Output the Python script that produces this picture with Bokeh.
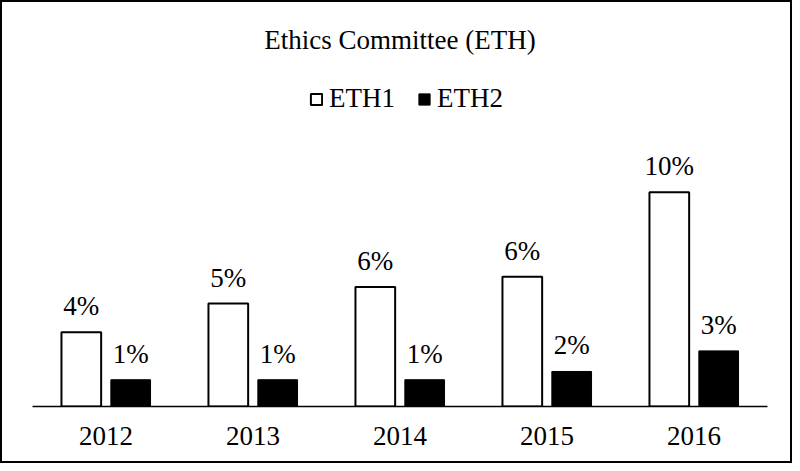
from bokeh.plotting import figure
from bokeh.models import ColumnDataSource, FactorRange, Range1d, Legend, LegendItem, Label
from bokeh.transform import dodge
from bokeh.embed import file_html
from bokeh.resources import INLINE

years = ["2012", "2013", "2014", "2015", "2016"]
eth1 = [3.6, 5.0, 5.8, 6.3, 10.4]
eth2 = [1.3, 1.3, 1.3, 1.7, 2.7]

FONT = "Liberation Serif"
W, H = 792, 463
FRAME_H = 406
PX_PER_UNIT = 20.6

src = ColumnDataSource(data=dict(
    year=years, eth1=eth1, eth2=eth2,
    l1=[f"{round(v)}%" for v in eth1],
    l2=[f"{round(v)}%" for v in eth2],
))

p = figure(x_range=FactorRange(*years, range_padding=0),
           y_range=Range1d(0, FRAME_H / PX_PER_UNIT),
           width=W, height=H, output_backend="svg", toolbar_location=None,
           y_axis_location=None, min_border_left=32, min_border_right=25,
           min_border_top=0, min_border_bottom=H - FRAME_H)
p.styles = {"box-shadow": "inset 0 0 0 2px black"}
p.border_fill_color = None
p.background_fill_color = None
p.outline_line_color = None
p.xgrid.visible = False
p.ygrid.visible = False

r1 = p.vbar(x=dodge("year", -0.168, range=p.x_range), top="eth1", width=0.27, source=src,
            fill_color="white", line_color="black", line_width=2)
r2 = p.vbar(x=dodge("year", 0.168, range=p.x_range), top="eth2", width=0.27, source=src,
            fill_color="black", line_color="black", line_width=1)

p.text(x=dodge("year", -0.168, range=p.x_range), y="eth1", text="l1", source=src,
       text_font=FONT, text_font_size="27px", text_align="center",
       text_baseline="alphabetic", y_offset=-26, text_color="black")
p.text(x=dodge("year", 0.168, range=p.x_range), y="eth2", text="l2", source=src,
       text_font=FONT, text_font_size="27px", text_align="center",
       text_baseline="alphabetic", y_offset=-26, text_color="black")

title = Label(x=2.5, y=(FRAME_H - 39) / PX_PER_UNIT, text="Ethics Committee (ETH)",
              text_font=FONT, text_font_size="27px", text_align="center",
              text_baseline="middle", text_color="black")
p.add_layout(title)

legend = Legend(items=[LegendItem(label="ETH1", renderers=[r1]),
                       LegendItem(label="ETH2", renderers=[r2])],
                orientation="horizontal", location=(277, 292),
                background_fill_alpha=0, border_line_alpha=0,
                glyph_width=14, glyph_height=14, label_standoff=6, spacing=22,
                padding=0, margin=0, label_text_font=FONT,
                label_text_font_size="27px", label_text_color="black")
p.add_layout(legend)

ax = p.xaxis[0]
ax.major_tick_line_color = None
ax.minor_tick_line_color = None
ax.axis_line_color = "black"
ax.axis_line_width = 1.5
ax.major_label_text_font = FONT
ax.major_label_text_font_size = "27px"
ax.major_label_text_color = "black"
ax.major_label_standoff = 14

open("out.html", "w").write(file_html(p, INLINE))
